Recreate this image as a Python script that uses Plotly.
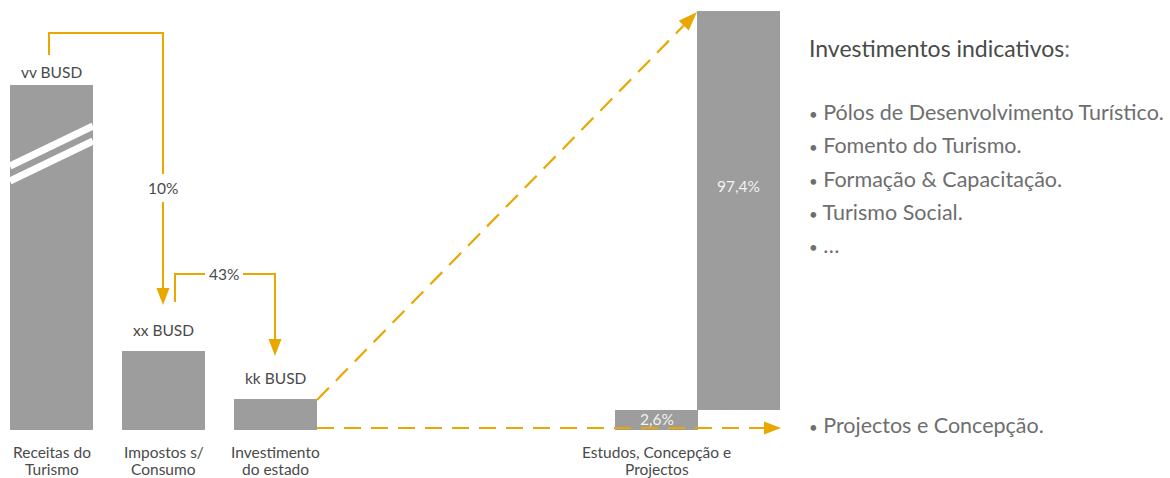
import math
import plotly.graph_objects as go

# ---------------- data ----------------
categories = ["Receitas do<br>Turismo", "Impostos s/<br>Consumo",
              "Investimento<br>do estado", "Estudos, Concepção e<br>Projectos"]
amount_labels = ["vv BUSD", "xx BUSD", "kk BUSD"]
amount_heights = [345, 79, 31]          # schematic bar heights (px units)
flow_labels = ["10%", "43%"]
split_labels = ["2,6%", "97,4%"]
split_heights = [20, 399]               # schematic heights of the split bars
title_text = "Investimentos indicativos"
bullet_items = ["Pólos de Desenvolvimento Turístico.", "Fomento do Turismo.",
                "Formação & Capacitação.", "Turismo Social.", "…"]
bottom_item = "Projectos e Concepção."

# ---------------- style / layout ----------------
W, H = 1170, 478
BASE = 430                     # pixel row of the baseline
GRAY = "#9C9D9C"
GOLD = "#E8A800"
DARK = "#4A4A4A"
LIGHT = "#6E6E6E"
FONT = "Lato"
SMALL = 15.5
BIG = 21.5
BW = 83
centers = [51.5, 163.5, 275.5, 656.5, 738.5]
label_gaps = [13, 21, 21]


def Y(p):
    """pixel row -> y-axis value"""
    return BASE - p


fig = go.Figure()

heights = amount_heights + split_heights
bases = [0, 0, 0, 0, split_heights[0]]
fig.add_trace(go.Bar(x=centers, y=heights, base=bases, width=[BW] * 5,
                     marker=dict(color=GRAY, line=dict(width=0)),
                     hoverinfo="skip", showlegend=False))

shapes = []
annotations = []

# break marks on first bar
x0b, x1b = centers[0] - BW / 2, centers[0] + BW / 2
top1 = amount_heights[0]
for off in (0, 15):
    shapes.append(dict(type="line", xref="x", yref="y",
                       x0=x0b, y0=top1 - 81 - off, x1=x1b, y1=top1 - 41 - off,
                       line=dict(color="white", width=7)))


def seg(pts, dash="solid", width=2):
    path = "M " + " L ".join(f"{x},{Y(p)}" for x, p in pts)
    shapes.append(dict(type="path", xref="x", yref="y", path=path,
                       line=dict(color=GOLD, width=width, dash=dash),
                       fillcolor="rgba(0,0,0,0)"))


def head(tip, frm, length=17, half=6.5):
    tx, tp = tip
    fx, fp = frm
    dx, dy = tx - fx, tp - fp
    n = math.hypot(dx, dy)
    ux, uy = dx / n, dy / n
    bx, by = tx - ux * length, tp - uy * length
    px, py = -uy * half, ux * half
    pts = [(tx, tp), (bx + px, by + py), (bx - px, by - py)]
    path = "M " + " L ".join(f"{x},{Y(p)}" for x, p in pts) + " Z"
    shapes.append(dict(type="path", xref="x", yref="y", path=path,
                       line=dict(color=GOLD, width=0), fillcolor=GOLD))
    return bx, by


# arrow 1: bar1 -> bar2 (10%)
c0 = centers[0] - 2.5
c1 = centers[1] - 0.5
seg([(c0, 55), (c0, 33), (c1, 33), (c1, 174)])
seg([(c1, 202), (c1, 290)])
head((c1, 305), (c1, 200))

# arrow 2: bar2 -> bar3 (43%)
c1b = centers[1] + 11.5
c2 = centers[2] - 0.5
seg([(c1b, 302), (c1b, 274), (c1b + 30, 274)])
seg([(c1b + 68, 274), (c2, 274), (c2, 341)])
head((c2, 356), (c2, 300))

# dashed diagonal to the 97.4% bar
start = (centers[2] + BW / 2, BASE - amount_heights[2] + 1)
tip = (centers[4] - BW / 2, BASE - split_heights[0] - split_heights[1] + 1)
bx, by = head(tip, start, length=19, half=7)
seg([start, (bx, by)], dash="17px,10px", width=2.2)

# dashed horizontal to the 2.6% bar
start2 = (centers[2] + BW / 2, BASE - 2)
tip2 = (centers[4] + BW / 2 + 1, BASE - 2)
bx2, by2 = head(tip2, start2, length=17, half=6.5)
seg([start2, (bx2 + 2, by2)], dash="17px,10px", width=2.2)


# ---------------- texts ----------------
def txt(x, p, s, size=SMALL, color=DARK, xanchor="center", yanchor="middle"):
    annotations.append(dict(x=x, y=Y(p), xref="x", yref="y", text=s,
                            showarrow=False, xanchor=xanchor, yanchor=yanchor,
                            font=dict(family=FONT, size=size, color=color)))


for c, lab, h, g in zip(centers[:3], amount_labels, amount_heights, label_gaps):
    txt(c, BASE - h - g, lab)

for c, lab in zip(centers[:4], categories):
    for k, line in enumerate(lab.split("<br>")):
        txt(c, 452 + 17 * k, line)

txt(c1, 188, flow_labels[0])
txt(c1b + 49, 274, flow_labels[1])
txt(centers[3], BASE - split_heights[0] / 2 - 1, split_labels[0], color="#F2F2F2")
txt(centers[4], 186, split_labels[1], color="#F2F2F2")

# right-hand notes
txt(807, 48, title_text + "<span style='color:#777'>:</span>", size=23,
    color=DARK, xanchor="left")
for i, item in enumerate(bullet_items):
    txt(807, 112 + i * 33.3, "<span style='font-size:15px'>•</span> " + item,
        size=BIG, color=LIGHT, xanchor="left")
txt(807, 425, "<span style='font-size:15px'>•</span> " + bottom_item,
    size=BIG, color=LIGHT, xanchor="left")

fig.update_layout(
    width=W, height=H, autosize=False,
    margin=dict(l=0, r=0, t=0, b=0, pad=0),
    paper_bgcolor="white", plot_bgcolor="white",
    xaxis=dict(range=[0, W], visible=False, fixedrange=True),
    yaxis=dict(range=[BASE - H, BASE], visible=False, fixedrange=True),
    shapes=shapes, annotations=annotations, bargap=0,
    showlegend=False,
)

fig.write_html("out.html", config={"displayModeBar": False},
               post_script="document.body.style.margin='0';"
                           "document.body.style.overflow='hidden';")
